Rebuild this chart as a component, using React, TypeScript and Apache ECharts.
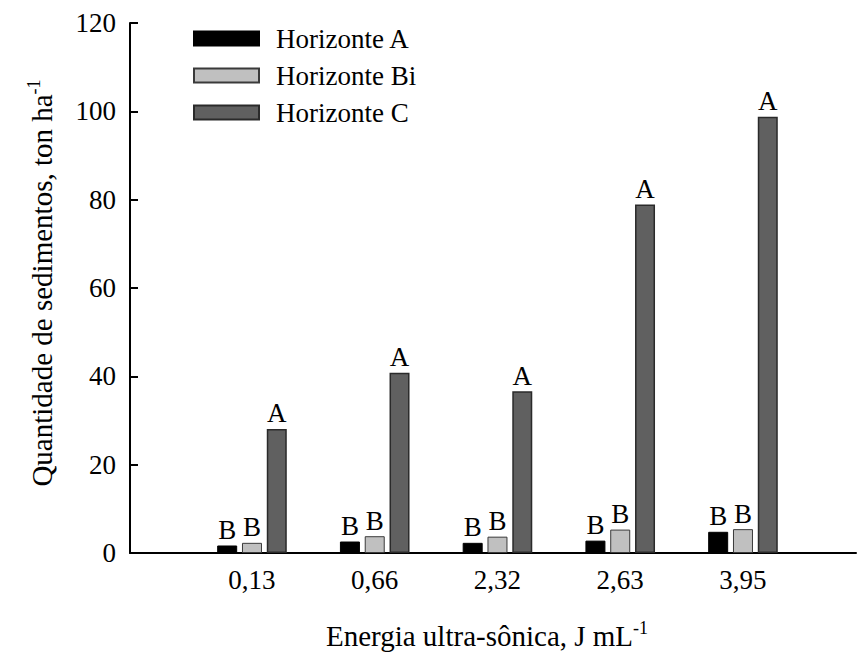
import React, { useEffect, useRef } from "react";
import * as echarts from "echarts";

const categories = ["0,13", "0,66", "2,32", "2,63", "3,95"];
const seriesNames = ["Horizonte A", "Horizonte Bi", "Horizonte C"];
const valuesA = [1.7, 2.6, 2.3, 2.8, 4.8];
const valuesBi = [2.3, 3.8, 3.7, 5.3, 5.4];
const valuesC = [28.1, 40.8, 36.6, 78.9, 98.8];
const lettersA = ["B", "B", "B", "B", "B"];
const lettersBi = ["B", "B", "B", "B", "B"];
const lettersC = ["A", "A", "A", "A", "A"];
const yTicks = [0, 20, 40, 60, 80, 100, 120];

const FONT = "Liberation Serif";

export default function App() {
  const ref = useRef<HTMLDivElement>(null);
  useEffect(() => {
    if (!ref.current) return;
    const chart = echarts.init(ref.current, undefined, { renderer: "svg" });
    const yMin = yTicks[0];
    const yMax = yTicks[yTicks.length - 1];
    const yInterval = yTicks[1] - yTicks[0];
    const labelFor = (letters: string[]) => ({
      show: true,
      position: "top" as const,
      distance: 2,
      fontSize: 27,
      fontFamily: FONT,
      color: "#000",
      formatter: (p: any) => letters[p.dataIndex],
    });
    const option: any = {
      animation: false,
      backgroundColor: "#fff",
      textStyle: { fontFamily: FONT, color: "#000" },
      grid: [
        { left: 130, right: 1, top: 23, bottom: 103 },
        { left: 190.6, width: 613.75, top: 23, height: 530 },
      ],
      xAxis: [
        {
          type: "value",
          gridIndex: 0,
          min: 0,
          max: 1,
          axisLine: { show: true, lineStyle: { color: "#000", width: 2 } },
          axisTick: { show: false },
          axisLabel: { show: false },
          splitLine: { show: false },
        },
        {
          type: "category",
          gridIndex: 1,
          data: categories,
          axisLine: { show: false },
          axisTick: { show: false },
          axisLabel: { fontSize: 27, fontFamily: FONT, color: "#000", margin: 13 },
          splitLine: { show: false },
        },
      ],
      yAxis: [
        {
          type: "value",
          gridIndex: 0,
          min: yMin,
          max: yMax,
          interval: yInterval,
          axisLine: { show: true, lineStyle: { color: "#000", width: 2 } },
          axisTick: { show: true, inside: true, length: 8, lineStyle: { color: "#000", width: 2 } },
          axisLabel: { fontSize: 27, fontFamily: FONT, color: "#000", margin: 14 },
          splitLine: { show: false },
        },
        {
          type: "value",
          gridIndex: 1,
          min: yMin,
          max: yMax,
          interval: yInterval,
          show: false,
          splitLine: { show: false },
        },
      ],
      legend: {
        data: seriesNames,
        orient: "vertical",
        left: 193,
        top: 25,
        padding: 0,
        itemWidth: 65,
        itemHeight: 14,
        itemGap: 10,
        icon: "rect",
        textStyle: {
          fontSize: 27,
          lineHeight: 27,
          fontFamily: FONT,
          color: "#000",
          padding: [0, 0, 0, 12],
        },
      },
      series: [
        {
          name: seriesNames[0],
          type: "bar",
          xAxisIndex: 1,
          yAxisIndex: 1,
          data: valuesA,
          barWidth: 20,
          barGap: "24%",
          itemStyle: { color: "#000", borderColor: "#000", borderWidth: 1 },
          label: labelFor(lettersA),
        },
        {
          name: seriesNames[1],
          type: "bar",
          xAxisIndex: 1,
          yAxisIndex: 1,
          data: valuesBi,
          barWidth: 20,
          barGap: "24%",
          itemStyle: { color: "#c0c0c0", borderColor: "#3a3a3a", borderWidth: 1 },
          label: labelFor(lettersBi),
        },
        {
          name: seriesNames[2],
          type: "bar",
          xAxisIndex: 1,
          yAxisIndex: 1,
          data: valuesC,
          barWidth: 20,
          barGap: "24%",
          itemStyle: { color: "#606060", borderColor: "#2a2a2a", borderWidth: 1.5 },
          label: labelFor(lettersC),
        },
      ],
      graphic: [
        {
          type: "text",
          x: 42,
          y: 283,
          rotation: Math.PI / 2,
          style: {
            text: "{a|Quantidade de sedimentos, ton ha}{s|-1}",
            align: "center",
            verticalAlign: "middle",
            fill: "#000",
            fontFamily: FONT,
            rich: {
              a: { fontSize: 29, fontFamily: FONT, fill: "#000", lineHeight: 34 },
              s: { fontSize: 18, fontFamily: FONT, fill: "#000", lineHeight: 18, verticalAlign: "top" },
            },
          },
        },
        {
          type: "text",
          x: 487,
          y: 636,
          style: {
            text: "{a|Energia ultra-sônica, J mL}{s|-1}",
            align: "center",
            verticalAlign: "middle",
            fill: "#000",
            fontFamily: FONT,
            rich: {
              a: { fontSize: 29, fontFamily: FONT, fill: "#000", lineHeight: 34 },
              s: { fontSize: 18, fontFamily: FONT, fill: "#000", lineHeight: 18, verticalAlign: "top" },
            },
          },
        },
      ],
    };
    chart.setOption(option);
    return () => chart.dispose();
  }, []);
  return (
    <div
      ref={ref}
      style={{ position: "fixed", left: 0, top: 0, width: 857, height: 656, background: "#fff" }}
    />
  );
}
